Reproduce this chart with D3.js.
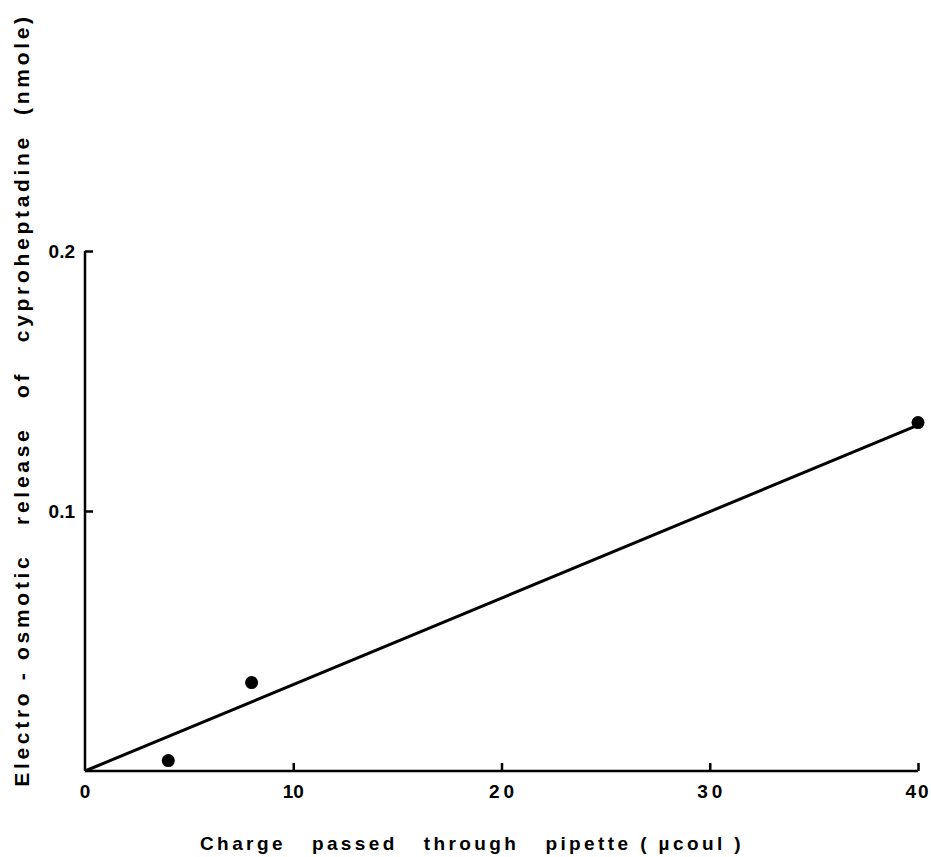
<!DOCTYPE html>
<html>
<head>
<meta charset="utf-8">
<script src="https://cdn.jsdelivr.net/npm/d3@7"></script>
<style>
  body { margin: 0; background: #fff; }
  svg { display: block; font-family: "Liberation Sans", Arial, sans-serif; }
</style>
</head>
<body>
<div id="chart"></div>
<script>
// ── Data ───────────────────────────────────────────────────────
const charge = [4, 8, 40];                 // µcoul
const release = [0.004, 0.034, 0.134];     // nmole
const fitX = [0, 40];
const fitY = [0, 0.133];
const xTicks = [0, 10, 20, 30, 40];
const yTicks = [0.1, 0.2];

const W = 931, H = 857;
const svg = d3.select("#chart").append("svg")
    .attr("width", W).attr("height", H);

// ── Scales ─────────────────────────────────────────────────────
const x = d3.scaleLinear().domain([0, 40]).range([85, 918]);
const y = d3.scaleLinear().domain([0, 0.2]).range([771, 251]);

// ── Axes (inward ticks, no domain caps) ─────────────────────────
const xAxis = svg.append("g")
    .attr("transform", `translate(0,${y(0)})`)
    .call(d3.axisTop(x).tickValues(xTicks.slice(1)).tickSize(8).tickFormat(""));
xAxis.select(".domain").attr("d", `M${x(0)},0H${x(40)}`);
xAxis.selectAll("line, path").attr("stroke", "#000").attr("stroke-width", 2.5);

const yAxis = svg.append("g")
    .attr("transform", `translate(${x(0)},0)`)
    .call(d3.axisRight(y).tickValues(yTicks).tickSize(8).tickFormat(""));
yAxis.select(".domain").attr("d", `M0,${y(0)}V${y(0.2)}`);
yAxis.selectAll("line, path").attr("stroke", "#000").attr("stroke-width", 2.5);

// ── Tick labels ────────────────────────────────────────────────
svg.append("g").selectAll("text")
    .data(xTicks)
    .join("text")
    .attr("x", d => x(d) + (d > 10 && d < 40 ? 2 : 0))
    .attr("y", 798)
    .attr("text-anchor", "middle")
    .style("font-size", "19px")
    .style("font-weight", "bold")
    .style("letter-spacing", d => d > 10 ? (d < 40 ? "4px" : "2px") : "0px")
    .text(d => d);

svg.append("g").selectAll("text")
    .data(yTicks)
    .join("text")
    .attr("x", 75)
    .attr("y", d => y(d) + 7)
    .attr("text-anchor", "end")
    .style("font-size", "19px")
    .style("font-weight", "bold")
    .text(d => d);

// ── Fitted line ────────────────────────────────────────────────
svg.append("path")
    .datum(fitX.map((v, i) => [v, fitY[i]]))
    .attr("d", d3.line().x(d => x(d[0])).y(d => y(d[1])))
    .attr("fill", "none")
    .attr("stroke", "#000")
    .attr("stroke-width", 3);

// ── Points ─────────────────────────────────────────────────────
svg.append("g").selectAll("circle")
    .data(charge.map((c, i) => [c, release[i]]))
    .join("circle")
    .attr("cx", d => x(d[0]))
    .attr("cy", d => y(d[1]))
    .attr("r", 6.5)
    .attr("fill", "#000");

// ── Axis titles ────────────────────────────────────────────────
svg.append("text")
    .attr("x", 472)
    .attr("y", 850)
    .attr("text-anchor", "middle")
    .style("font-size", "19px")
    .style("font-weight", "bold")
    .style("letter-spacing", "3.4px")
    .style("white-space", "pre")
    .text("Charge   passed   through   pipette ( µcoul )");

svg.append("text")
    .attr("transform", "translate(29,400) rotate(-90)")
    .attr("text-anchor", "middle")
    .style("font-size", "21px")
    .style("font-weight", "bold")
    .style("letter-spacing", "3.7px")
    .style("white-space", "pre")
    .text("Electro - osmotic   release   of   cyproheptadine  (nmole)");
</script>
</body>
</html>
